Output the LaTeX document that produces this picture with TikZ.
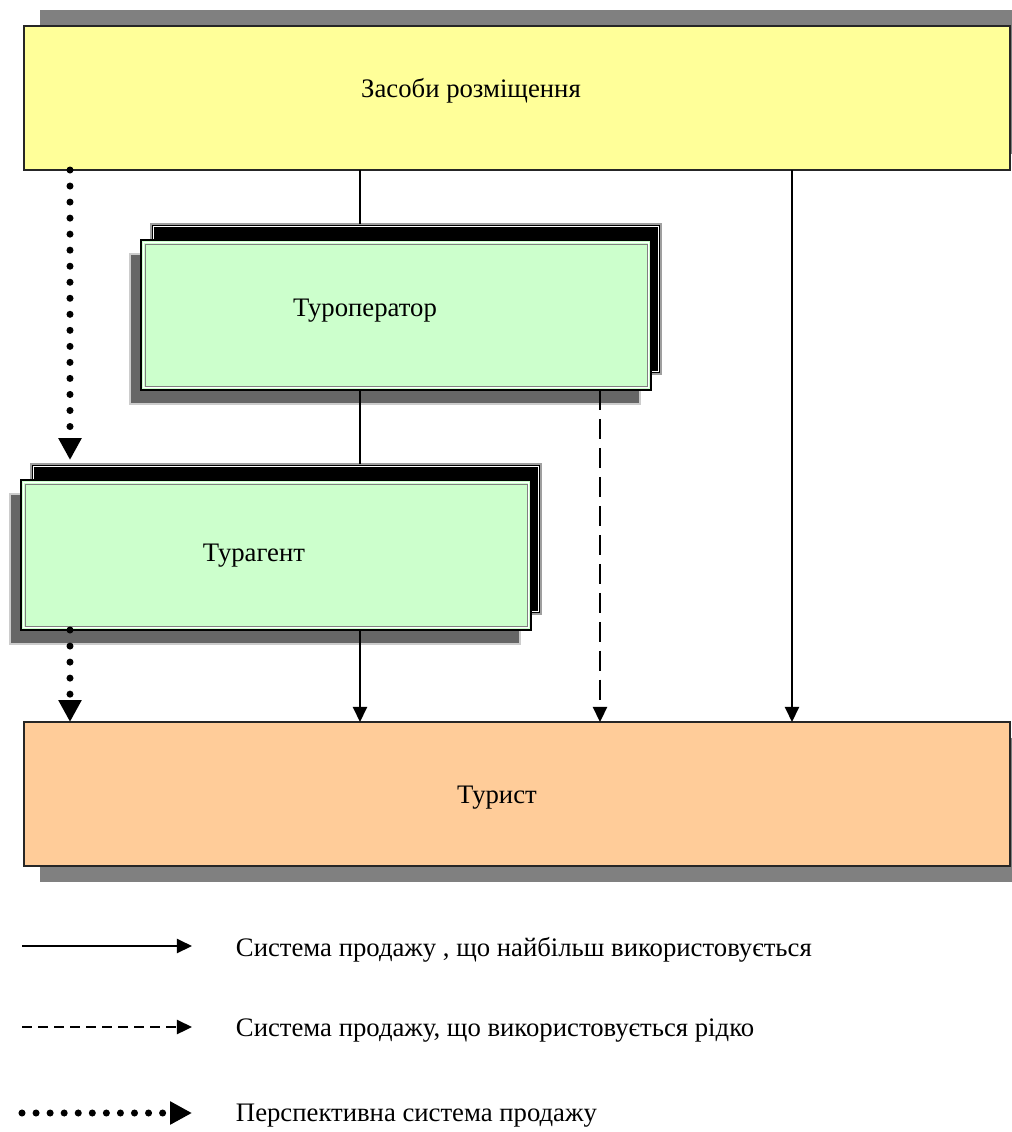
\documentclass[tikz,border=0pt]{standalone}
\usepackage{fontspec}
\setmainfont{Liberation Serif}
\usetikzlibrary{arrows.meta}

\definecolor{yelfill}{RGB}{255,255,153}
\definecolor{grnfill}{RGB}{204,255,204}
\definecolor{orgfill}{RGB}{255,204,153}
\definecolor{shadgray}{RGB}{128,128,128}
\definecolor{backgray}{RGB}{102,102,102}

\tikzset{
    bigbox/.style={rectangle, inner sep=0pt, outer sep=0pt, minimum width=24.65cm,
        minimum height=3.6cm, draw=black!85, line width=1.1pt},
    frontbox/.style={rectangle, inner sep=0pt, outer sep=0pt, minimum width=12.75cm,
        minimum height=3.75cm, draw=black, line width=1.4pt, fill=grnfill},
    blackbox/.style={frontbox, fill=black, draw=gray!75, line width=1.2pt},
    graybox/.style={frontbox, fill=backgray, draw=gray!40, line width=1.5pt},
    lbl/.style={anchor=base, font=\fontsize{19}{23}\selectfont},
    legtext/.style={anchor=base west, font=\fontsize{19}{23}\selectfont},
    solidline/.style={line width=1.4pt, -{Triangle[length=10.7pt, width=10pt]}},
    dashline/.style={line width=1.6pt, dash pattern=on 14.2pt off 6.4pt,
        -{Triangle[length=10.7pt, width=10pt]}},
    dotline/.style={line width=5pt, line cap=round, dash pattern=on 0pt off 11.4pt,
        -{Triangle[length=15.6pt, width=15.6pt]}},
}

\begin{document}
\begin{tikzpicture}[x=0.025cm, y=-0.025cm]
\useasboundingbox (0,0) rectangle (1012,1132);

\begin{scope}
\clip (0,0) rectangle (1012,1132);
\fill[shadgray] (40,10) rectangle (1030,154);
\fill[shadgray] (40,738) rectangle (1030,882);
\end{scope}

\node[bigbox, fill=yelfill] (zasoby) at (517,98) {};
\node[bigbox, fill=orgfill] (turyst) at (517,794) {};

% turoperator
\node[graybox] (turopgray) at (385,329) {};
\node[blackbox] (turopback) at (406,299) {};
\draw[white, line width=0.6pt] ([shift={(2.5,2.5)}]turopback.north west) rectangle ([shift={(-2.5,-2.5)}]turopback.south east);
\node[frontbox] (turop) at (396,315) {};
\draw[white, line width=1.2pt] ([shift={(2.5,2.5)}]turop.north west) rectangle ([shift={(-2.5,-2.5)}]turop.south east);
\draw[gray, line width=0.5pt] ([shift={(4,4)}]turop.north west) rectangle ([shift={(-4,-4)}]turop.south east);

% turagent
\node[graybox] (turaggray) at (265,569) {};
\node[blackbox] (turagback) at (286,539) {};
\draw[white, line width=0.6pt] ([shift={(2.5,2.5)}]turagback.north west) rectangle ([shift={(-2.5,-2.5)}]turagback.south east);
\node[frontbox] (turag) at (276,555) {};
\draw[white, line width=1.2pt] ([shift={(2.5,2.5)}]turag.north west) rectangle ([shift={(-2.5,-2.5)}]turag.south east);
\draw[gray, line width=0.5pt] ([shift={(4,4)}]turag.north west) rectangle ([shift={(-4,-4)}]turag.south east);

\node[lbl] (zasobytxt) at (471,97) {Засоби розміщення};
\node[lbl] (turoptxt) at (365,316) {Туроператор};
\node[lbl] (turagtxt) at (254,561) {Турагент};
\node[lbl] (turysttxt) at (497,803) {Турист};

\coordinate (c1) at (70,0);
\coordinate (c2) at (360,0);
\coordinate (c3) at (600,0);
\coordinate (c4) at (792,0);

\draw[line width=1.4pt] (zasoby.south -| c2) -- (turopback.north -| c2);
\draw[line width=1.4pt] (turop.south -| c2) -- (turagback.north -| c2);
\draw[solidline] (turag.south -| c2) -- (turyst.north -| c2);
\draw[solidline] (zasoby.south -| c4) -- (turyst.north -| c4);
\draw[dashline] (turop.south -| c3) -- (turyst.north -| c3);
\draw[dotline] (zasoby.south -| c1) -- ([yshift=2.8pt]turagback.north -| c1);
\draw[dotline] (turag.south -| c1) -- (turyst.north -| c1);

% legend
\coordinate (l1a) at (22,946);
\coordinate (l1b) at (192,946);
\coordinate (l2a) at (22,1027);
\coordinate (l2b) at (192,1027);
\coordinate (l3a) at (22,1113);
\coordinate (l3b) at (192,1113);
\draw[solidline] (l1a) -- (l1b);
\draw[line width=1.6pt, dash pattern=on 7.1pt off 4.3pt, -{Triangle[length=10.7pt, width=10pt]}] (l2a) -- (l2b);
\draw[dotline, dash pattern=on 0pt off 10pt] (l3a) -- (l3b);
\node[legtext] (leg1) at (231,956) {Система продажу , що найбільш використовується};
\node[legtext] (leg2) at (231,1036) {Система продажу, що використовується рідко};
\node[legtext] (leg3) at (231,1121) {Перспективна система продажу};
\end{tikzpicture}
\end{document}
